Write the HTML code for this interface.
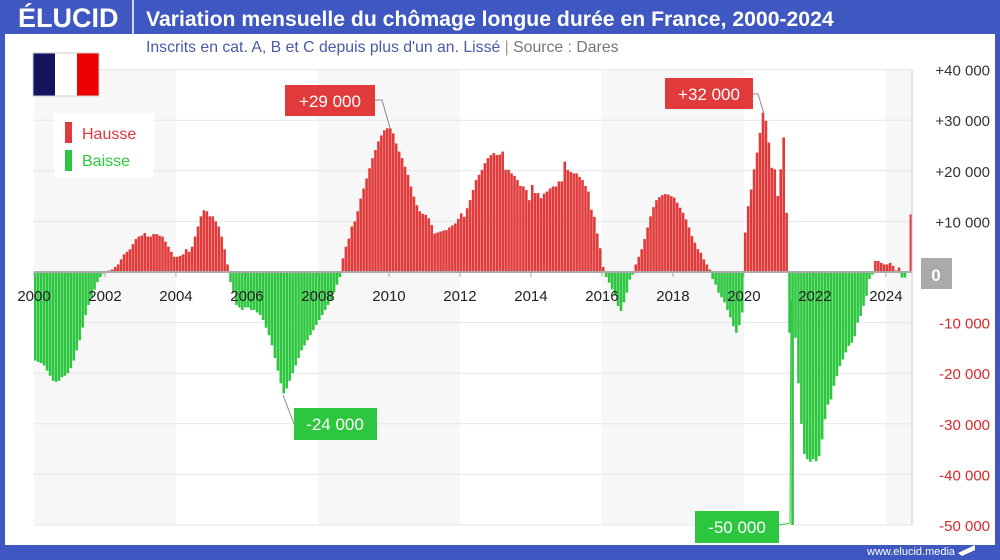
<!DOCTYPE html>
<html><head><meta charset="utf-8"><style>
body{margin:0;width:1000px;height:560px;overflow:hidden;background:#3f57c0;font-family:"Liberation Sans",sans-serif}
#frame{position:absolute;left:5px;top:34px;width:990px;height:511px;background:#fff}
</style></head><body>
<div id="frame"></div>
<svg width="1000" height="560" style="position:absolute;left:0;top:0">
<text x="18" y="27" fill="#fff" font-size="27" font-weight="bold">ÉLUCID</text>
<line x1="133" y1="0" x2="133" y2="34" stroke="#fff" stroke-width="1.5"/>
<text x="146" y="26" fill="#fff" font-size="21.2" font-weight="bold">Variation mensuelle du chômage longue durée en France, 2000-2024</text>
<text x="146" y="52" fill="#4a5aa8" font-size="15.8">Inscrits en cat. A, B et C depuis plus d'un an. Lissé  <tspan fill="#999">|</tspan>  <tspan fill="#777">Source : Dares</tspan></text>
<g id="bands"></g><g id="grid"></g><g id="bars"></g><g id="axes"></g>
<g><rect x="33" y="53" width="22" height="43" fill="#14145e"/><rect x="55" y="53" width="22" height="43" fill="#fff"/><rect x="77" y="53" width="22" height="43" fill="#e00"/><rect x="33" y="53" width="66" height="43" fill="none" stroke="#ccc"/></g>
<g><rect x="54" y="113" width="100" height="64" fill="#fff"/>
<rect x="65" y="122" width="7" height="21" fill="#e03a3a"/><text x="82" y="139" fill="#d9383d" font-size="16">Hausse</text>
<rect x="65" y="150" width="7" height="21" fill="#2dc73f"/><text x="82" y="166" fill="#2dc73f" font-size="16">Baisse</text></g>
<g>
<polyline points="375,100 382,100 390,128" fill="none" stroke="#888"/><rect x="285" y="85" width="90" height="31" fill="#e03a3a"/><text x="330" y="107" fill="#fff" font-size="17" text-anchor="middle">+29 000</text>
<polyline points="753,94 758,94 764,114" fill="none" stroke="#888"/><rect x="665" y="78" width="88" height="31" fill="#e03a3a"/><text x="709" y="100" fill="#fff" font-size="17" text-anchor="middle">+32 000</text>
<polyline points="283,395 294,424 294,424" fill="none" stroke="#888"/><rect x="294" y="408" width="83" height="32" fill="#2dc73f"/><text x="335" y="430" fill="#fff" font-size="17" text-anchor="middle">-24 000</text>
<polyline points="779,525 790,523 791,300" fill="none" stroke="#2dc73f"/><rect x="695" y="511" width="84" height="32" fill="#2dc73f"/><text x="737" y="533" fill="#fff" font-size="17" text-anchor="middle">-50 000</text>
<rect x="921" y="258" width="31" height="31" fill="#aaa"/><text x="936" y="281" fill="#fff" font-size="17" font-weight="bold" text-anchor="middle">0</text></g>
<text x="867" y="555" fill="#fff" font-size="11">www.elucid.media</text>
<polygon points="958,553 975,545 975,550 962,556" fill="#fff"/>
</svg>
<script>
const years=[2000,2002,2004,2006,2008,2010,2012,2014,2016,2018,2020,2022,2024];
const yTicks=[40000,30000,20000,10000,-10000,-20000,-30000,-40000,-50000];
const yTickLabels=["+40 000","+30 000","+20 000","+10 000","-10 000","-20 000","-30 000","-40 000","-50 000"];
const v2000=[-17500,-17800,-18000,-18500,-19500,-20500,-21500,-21700,-21500,-20800,-20500,-20000];
const v2001=[-19000,-17500,-15500,-13500,-11000,-8500,-6500,-5000,-3500,-2000,-1000,-300];
const v2002=[100,300,500,1000,1500,2500,3500,4000,4500,5500,6500,7000];
const v2003=[7200,7700,7000,7000,7500,7500,7200,7000,6000,5000,4000,3000];
const v2004=[3000,3200,3500,4500,4000,5000,7000,9000,11000,12200,12000,11000];
const v2005=[11000,10000,9000,7000,4500,1500,-2000,-4000,-6500,-7000,-7500,-7000];
const v2006=[-7000,-7500,-7500,-8000,-8500,-9500,-11000,-12500,-14500,-17000,-19500,-22000];
const v2007=[-24000,-23000,-21500,-20000,-18500,-17000,-15500,-14500,-13500,-12500,-11500,-10500];
const v2008=[-9500,-8500,-7500,-6500,-5500,-4000,-2500,-1000,2700,5000,6600,9000];
const v2009=[10000,12000,14500,16500,18500,20500,22500,24100,25800,27000,28000,28400];
const v2010=[28400,27400,25400,23800,22500,20800,19200,16900,14900,13200,12000,11500];
const v2011=[11300,10600,9300,7600,7800,8000,8200,8300,8800,9200,9600,10500];
const v2012=[11600,10900,12600,14200,16200,18200,19200,20200,21500,22500,23100,23500];
const v2013=[23100,23200,23800,20200,20200,19500,19000,18200,17000,16900,16200,14200];
const v2014=[17200,15600,15600,14600,15500,15900,16500,16900,16900,17900,17900,21800];
const v2015=[20200,19800,19500,19500,18800,18200,17000,15900,12300,10900,7600,4700];
const v2016=[1000,-1000,-2100,-3400,-4700,-6700,-7700,-6000,-4100,-1500,-500,1500];
const v2017=[3000,4500,6500,8800,11000,12800,14200,14800,15200,15400,15300,15000];
const v2018=[14700,13700,12700,11700,10400,8800,7100,5800,4500,3800,2500,1500];
const v2019=[500,-1400,-2500,-4100,-5000,-6000,-7500,-9000,-10700,-12000,-10500,-8000];
const v2020=[7800,13000,16300,20300,23600,27500,31500,29900,25600,20600,20300,15000];
const v2021=[20300,26600,11700,-12000,-50000,-13000,-22000,-30000,-36000,-37000,-37500,-37000];
const v2022=[-37400,-36400,-33100,-29100,-26200,-25200,-22500,-20600,-18600,-17300,-15900,-14600];
const v2023=[-14000,-12700,-10000,-8700,-6700,-4700,-1400,-500,2200,2200,1800,1500];
const v2024=[1500,1800,1200,300,900,-1100,-1100,0,11400];
const values=[].concat(v2000,v2001,v2002,v2003,v2004,v2005,v2006,v2007,v2008,v2009,v2010,v2011,v2012,v2013,v2014,v2015,v2016,v2017,v2018,v2019,v2020,v2021,v2022,v2023,v2024);
const NS="http://www.w3.org/2000/svg";
const X0=34,PX_M=2.958,Y0=272,PX_V=50.6/10000,XR=912,YT=70,YB=525;
const xMonth=i=>X0+i*PX_M;
const xYear=y=>X0+(y-2000)*12*PX_M;
const yv=v=>Y0-v*PX_V;
function mk(tag,attrs,parent,txt){const e=document.createElementNS(NS,tag);for(const k in attrs)e.setAttribute(k,attrs[k]);if(txt!==undefined)e.textContent=txt;document.getElementById(parent).appendChild(e);return e;}
for(let y=2000;y<2025;y+=8){
 const b=mk('rect',{x:xYear(y),y:YT,width:Math.min(xYear(y+4),XR)-xYear(y),height:YB-YT,fill:'#f7f7f7'},'bands');
 
 
}
yTicks.forEach((t,i)=>{
 const l=mk('line',{x1:34,x2:XR,y1:yv(t),y2:yv(t),stroke:'#e6e6e6'},'grid');
 
 
 const tx=mk('text',{x:990,y:yv(t)+6,'text-anchor':'end','font-size':15,fill:t<0?'#d42a2a':'#333'},'axes',yTickLabels[i]);
 
 
});
values.forEach((v,i)=>{
 const y1=yv(Math.max(v,0)),y2=yv(Math.min(v,0));
 const r=mk('rect',{x:xMonth(i),y:y1,width:2.6,height:Math.max(y2-y1,0.5),fill:v>=0?'#e03a3a':'#2dc73f'},'bars');
 
 
});
const ax=mk('line',{x1:34,x2:XR,y1:Y0,y2:Y0,stroke:'#aaa','stroke-width':2},'axes');


const ra=mk('line',{x1:XR,x2:XR,y1:YT,y2:YB,stroke:'#ccc'},'axes');


years.forEach(y=>{
 const x=xYear(y);
 const tk=mk('line',{x1:x,x2:x,y1:Y0,y2:Y0+5,stroke:'#aaa'},'axes');
 
 
 const t=mk('text',{x:x,y:Y0+29,'text-anchor':'middle','font-size':15,fill:'#222'},'axes',String(y));
 
 
});
</script>
</body></html>
